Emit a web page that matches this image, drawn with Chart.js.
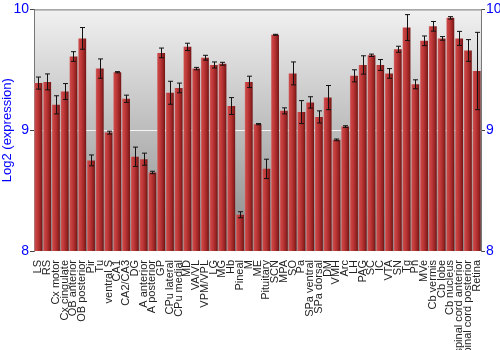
<!DOCTYPE html>
<html>
<head>
<meta charset="utf-8">
<script src="https://cdn.jsdelivr.net/npm/chart.js@4"></script>
<style>
  html, body { margin: 0; padding: 0; background: #fff; }
  #wrap { width: 500px; height: 350px; }
</style>
</head>
<body>
<div id="wrap"><canvas id="myChart" width="500" height="350"></canvas></div>
<script>
const regions = ['LS', 'RS', 'Cx motor', 'Cx cingulate', 'OB anterior', 'OB posterior', 'Pir', 'Tu',
    'ventral S', 'CA1', 'CA2/CA3', 'DG', 'A anterior', 'A posterior', 'GP', 'CPu lateral', 'CPu medial',
    'MD', 'VA/VL', 'VPM/VPL', 'LG', 'MG', 'Hb', 'Pineal', 'M', 'ME', 'Pituitary', 'SCN', 'MPA', 'SO',
    'Pa', 'SPa ventral', 'SPa dorsal', 'DM', 'VMH', 'Arc', 'LH', 'PAG', 'SC', 'IC', 'VTA', 'SN', 'Tg',
    'Pn', 'MVe', 'Cb vermis', 'Cb lobe', 'Cb nucleus', 'spinal cord anterior', 'spinal cord posterior',
    'Retina'];

const expression = [9.39, 9.40, 9.21, 9.32, 9.61, 9.76, 8.75, 9.51,
    8.98, 9.48, 9.26, 8.78, 8.76, 8.65, 9.64, 9.31, 9.35,
    9.69, 9.51, 9.60, 9.54, 9.55, 9.20, 8.30, 9.40, 9.05, 8.68, 9.79, 9.16, 9.47,
    9.15, 9.23, 9.11, 9.27, 8.92, 9.03, 9.45, 9.54, 9.62, 9.54, 9.47, 9.67, 9.85,
    9.38, 9.74, 9.86, 9.76, 9.93, 9.76, 9.66,
    9.49];

const errors = [0.05, 0.066, 0.075, 0.066, 0.04, 0.09, 0.045, 0.08,
    0.012, 0.005, 0.03, 0.08, 0.05, 0.01, 0.04, 0.095, 0.04,
    0.03, 0.01, 0.02, 0.025, 0.012, 0.07, 0.025, 0.047, 0.005, 0.08, 0.004, 0.025, 0.095,
    0.095, 0.047, 0.05, 0.1, 0.007, 0.007, 0.05, 0.076, 0.01, 0.045, 0.04, 0.025, 0.107,
    0.037, 0.04, 0.04, 0.015, 0.01, 0.058, 0.09,
    0.32];

const yTicks = [8, 9, 10];

// grey gradient behind the plot plus the top border line
const backdrop = {
    id: 'backdrop',
    beforeDraw(chart) {
        const { ctx, chartArea: a } = chart;
        if (!a) return;
        const g = ctx.createLinearGradient(0, a.top, 0, a.bottom);
        g.addColorStop(0, '#f1f1f1');
        g.addColorStop(1, '#888888');
        ctx.save();
        ctx.fillStyle = g;
        ctx.fillRect(a.left, a.top, a.right - a.left, a.bottom - a.top);
        ctx.strokeStyle = '#777';
        ctx.lineWidth = 1;
        ctx.beginPath();
        ctx.moveTo(a.left, a.top + 0.5);
        ctx.lineTo(a.right, a.top + 0.5);
        ctx.stroke();
        ctx.restore();
    }
};

// error bars from the errors array, positioned through the scales
const errorBars = {
    id: 'errorBars',
    afterDatasetsDraw(chart) {
        const { ctx } = chart;
        const y = chart.scales.y;
        const meta = chart.getDatasetMeta(0);
        ctx.save();
        ctx.strokeStyle = '#111';
        ctx.lineWidth = 1;
        meta.data.forEach((bar, i) => {
            const x = Math.round(bar.x) + 0.5;
            const hi = y.getPixelForValue(expression[i] + errors[i]);
            const lo = y.getPixelForValue(expression[i] - errors[i]);
            ctx.beginPath();
            ctx.moveTo(x, hi);
            ctx.lineTo(x, lo);
            ctx.moveTo(x - 2.5, hi);
            ctx.lineTo(x + 2.5, hi);
            ctx.moveTo(x - 2.5, lo);
            ctx.lineTo(x + 2.5, lo);
            ctx.stroke();
        });
        ctx.restore();
    }
};

function barFill(context) {
    const chart = context.chart;
    const xs = chart.scales.x;
    if (!chart.chartArea || !xs) return '#b03030';
    const cx = xs.getPixelForValue(context.dataIndex);
    const half = xs.width / regions.length * 0.45;
    const g = chart.ctx.createLinearGradient(cx - half, 0, cx + half, 0);
    g.addColorStop(0, '#d67a7a');
    g.addColorStop(0.12, '#c84646');
    g.addColorStop(0.35, '#c23a3a');
    g.addColorStop(0.75, '#9a2424');
    g.addColorStop(1, '#6e1414');
    return g;
}

const ctx = document.getElementById('myChart').getContext('2d');
new Chart(ctx, {
    type: 'bar',
    data: {
        labels: regions,
        datasets: [{
            data: expression,
            backgroundColor: barFill,
            borderWidth: 0,
            barPercentage: 0.9,
            categoryPercentage: 1.0
        }]
    },
    options: {
        responsive: false,
        animation: false,
        layout: { padding: { top: 9, left: 0, right: 0, bottom: 0 } },
        plugins: {
            legend: { display: false },
            tooltip: { enabled: false }
        },
        scales: {
            x: {
                grid: { display: false },
                border: { display: false },
                ticks: {
                    autoSkip: false,
                    maxRotation: 90,
                    minRotation: 90,
                    padding: 1,
                    color: '#222',
                    font: { family: 'Liberation Sans, Arial', size: 11 }
                },
                afterFit(scale) { scale.height = 99; }
            },
            y: {
                min: 8,
                max: 10,
                afterBuildTicks(scale) { scale.ticks = yTicks.map(v => ({ value: v })); },
                border: { color: '#777' },
                grid: {
                    color: c => (c.tick && c.tick.value === 9) ? 'rgba(255,255,255,0.85)' : 'rgba(0,0,0,0)',
                    tickColor: '#444',
                    tickLength: 4
                },
                ticks: {
                    color: '#0000ff',
                    padding: 1,
                    font: { family: 'Liberation Sans, Arial', size: 14 }
                },
                title: {
                    display: true,
                    text: 'Log2 (expression)',
                    color: '#0000ff',
                    padding: 0,
                    font: { family: 'Liberation Sans, Arial', size: 13 }
                },
                afterFit(scale) { scale.width = 34; }
            },
            y2: {
                position: 'right',
                min: 8,
                max: 10,
                afterBuildTicks(scale) { scale.ticks = yTicks.map(v => ({ value: v })); },
                border: { color: '#777' },
                grid: { drawOnChartArea: false, tickColor: '#444', tickLength: 4 },
                ticks: {
                    color: '#0000ff',
                    padding: 1,
                    font: { family: 'Liberation Sans, Arial', size: 14 }
                },
                afterFit(scale) { scale.width = 19; }
            }
        }
    },
    plugins: [backdrop, errorBars]
});
</script>
</body>
</html>
